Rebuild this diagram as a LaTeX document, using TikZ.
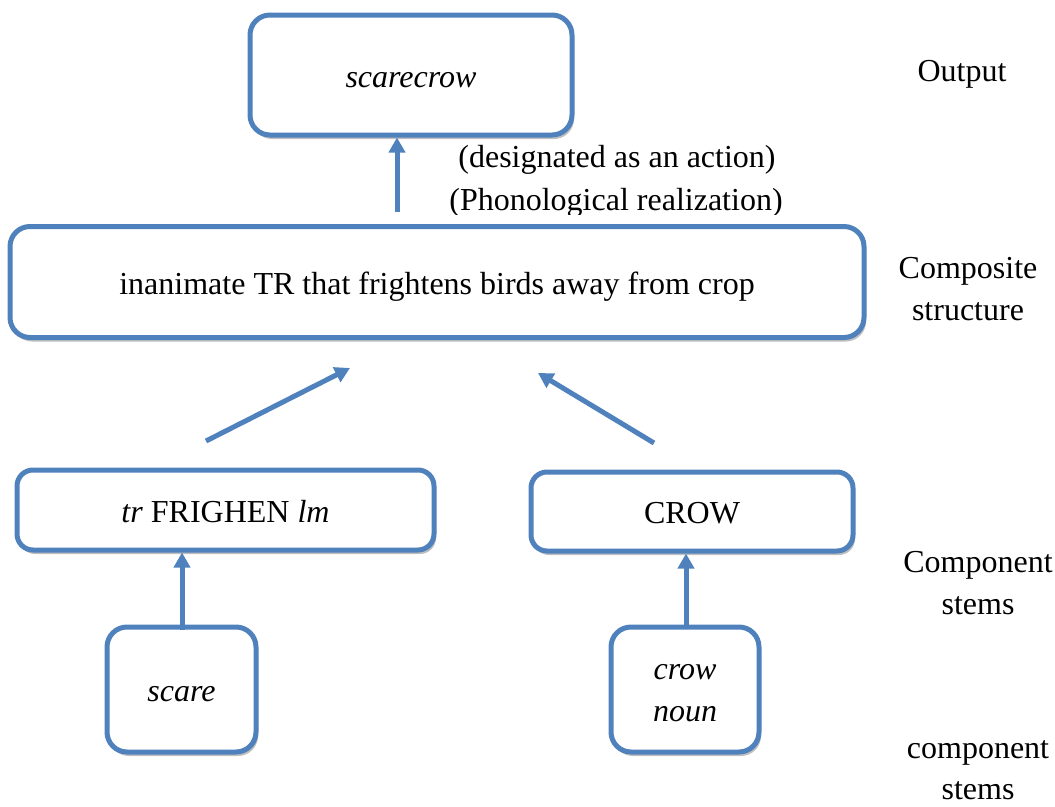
\documentclass[tikz,border=0pt]{standalone}
\usepackage{fontspec}
\setmainfont{Liberation Serif}
\usetikzlibrary{arrows.meta,shadows}
\definecolor{oblue}{HTML}{4F81BD}
\begin{document}
\begin{tikzpicture}[x=1pt,y=-1pt,
  box/.style={draw=oblue, line width=5pt, rounded corners=20pt, fill=white, inner sep=0pt,
    drop shadow={shadow xshift=2pt, shadow yshift=-4pt, fill=black, opacity=0.25},
    font=\fontsize{32}{42}\selectfont, align=center, text height=24pt, text depth=0pt},
  arr/.style={draw=oblue, line width=5pt, -{Triangle[width=16pt,length=15pt]}},
  lab/.style={font=\fontsize{32}{41.5}\selectfont, align=center, inner sep=0pt}]
\useasboundingbox (0,0) rectangle (1055,806);

% labels behind composite box
\begin{scope}
  \clip (0,0) rectangle (1055,214);
  \node[lab, text height=22pt, text depth=8pt] (des) at (617,160) {(designated as an action)};
  \node[lab, text height=22pt, text depth=8pt] (pho) at (616,203) {(Phonological realization)};
\end{scope}

% boxes
\node[box, minimum width=322pt, minimum height=120pt] (top) at (411,75) {\itshape scarecrow};
\node[box, minimum width=854pt, minimum height=111pt] (comp) at (437,282) {inanimate TR that frightens birds away from crop};
\node[box, rounded corners=16pt, minimum width=417pt, minimum height=80pt] (frig) at (225.5,510) {\textit{tr} FRIGHEN \textit{lm}};
\node[box, rounded corners=16pt, minimum width=322pt, minimum height=79pt] (crowb) at (692,511.5) {CROW};
\node[box, minimum width=149pt, minimum height=125pt] (scare) at (181.5,689.5) {\itshape scare};
\node[box, minimum width=148pt, minimum height=125pt, text height=64pt] (crown) at (685,689.5) {\itshape crow\\\itshape noun};

% right-hand labels
\node[lab] (out) at (962,74) {Output};
\node[lab] (cs) at (968,289) {Composite\\structure};
\node[lab] (cst) at (978,583) {Component\\stems};
\node[lab] (cst2) at (978,770) {component\\stems};

% connectors
\coordinate (a1) at (397,212);
\draw[arr] (a1) -- (a1 |- top.south);
\coordinate (a2s) at (206,441);
\coordinate (a2e) at (350,368);
\draw[arr] (a2s) -- (a2e);
\coordinate (a3s) at (654,443);
\coordinate (a3e) at (538,373);
\draw[arr] (a3s) -- (a3e);
\coordinate (a4) at (182,630);
\draw[arr] (a4) -- (a4 |- frig.south);
\coordinate (a5) at (686,628);
\draw[arr] (a5) -- (a5 |- crowb.south);
\end{tikzpicture}
\end{document}
